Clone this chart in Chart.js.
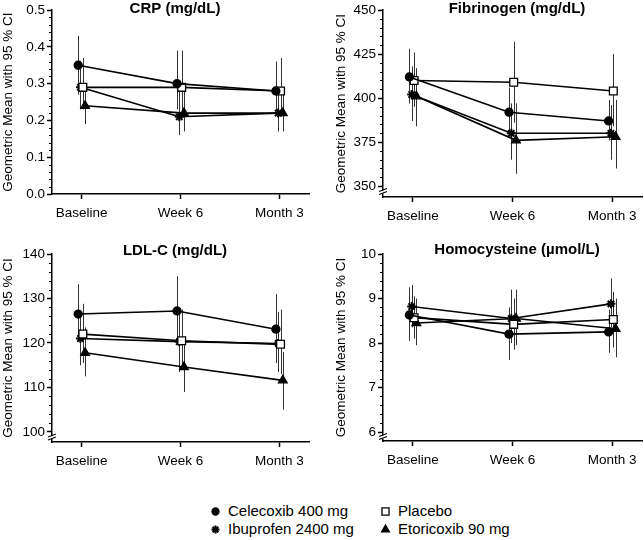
<!DOCTYPE html>
<html>
<head>
<meta charset="utf-8">
<title>Inflammatory markers</title>
<script src="https://cdn.jsdelivr.net/npm/chart.js@4.4.1/dist/chart.umd.min.js"></script>
<style>
    body { margin: 0; background: #fff; }
    #wrap { position: relative; width: 644px; height: 540px; font-family: 'Liberation Sans', Arial, sans-serif; }
    #wrap canvas.panel { position: absolute; }
    .item { position: absolute; font-size: 15px; line-height: 18px; color: #000; white-space: nowrap; }
    .item canvas { position: absolute; left: -19px; top: 3px; }
</style>
</head>
<body>
<div id="wrap">
    <canvas class="panel" id="crpChart" width="322" height="230" style="left:0;top:0"></canvas>
    <canvas class="panel" id="fibChart" width="322" height="230" style="left:322px;top:0"></canvas>
    <canvas class="panel" id="ldlChart" width="322" height="245" style="left:0;top:230px"></canvas>
    <canvas class="panel" id="hcyChart" width="322" height="245" style="left:322px;top:230px"></canvas>
    <div id="legend"></div>
</div>
<script>
const categories = ['Baseline', 'Week 6', 'Month 3'];
const seriesNames = ['Celecoxib 400 mg', 'Placebo', 'Ibuprofen 2400 mg', 'Etoricoxib 90 mg'];

// series order: Celecoxib, Placebo, Ibuprofen, Etoricoxib
const crpMean = [[0.35, 0.30, 0.28], [0.29, 0.29, 0.28], [0.29, 0.21, 0.22], [0.24, 0.22, 0.22]];
const crpLow  = [[0.27, 0.23, 0.22], [0.23, 0.22, 0.21], [0.23, 0.16, 0.17], [0.19, 0.17, 0.17]];
const crpHigh = [[0.43, 0.39, 0.36], [0.37, 0.39, 0.37], [0.36, 0.28, 0.29], [0.30, 0.29, 0.28]];
const crpTicks = [0, 0.1, 0.2, 0.3, 0.4, 0.5];

const fibMean = [[412, 392, 387], [410, 409, 404], [402, 380, 380], [401, 376, 378]];
const fibLow  = [[397, 378, 376], [395, 386, 384], [387, 365, 365], [384, 357, 360]];
const fibHigh = [[428, 406, 399], [426, 432, 425], [418, 397, 396], [417, 397, 399]];
const fibTicks = [350, 375, 400, 425, 450];

const ldlMean = [[126.5, 127.2, 123.1], [122.0, 120.5, 119.7], [121.0, 120.3, 119.9], [117.8, 114.6, 111.6]];
const ldlLow  = [[120.5, 120.0, 115.5], [115.5, 114.0, 113.0], [115.0, 113.5, 113.5], [112.5, 109.0, 105.0]];
const ldlHigh = [[133.2, 135.0, 131.0], [128.8, 127.5, 127.5], [127.0, 127.0, 127.0], [123.5, 120.5, 118.0]];
const ldlTicks = [100, 110, 120, 130, 140];

const hcyMean = [[8.63, 8.20, 8.25], [8.57, 8.42, 8.53], [8.82, 8.55, 8.88], [8.45, 8.55, 8.32]];
const hcyLow  = [[8.05, 7.62, 7.78], [8.10, 7.85, 7.90], [8.35, 8.00, 8.35], [7.95, 7.95, 7.68]];
const hcyHigh = [[9.25, 8.80, 8.75], [9.05, 9.00, 9.15], [9.30, 9.20, 9.45], [9.00, 9.20, 9.00]];
const hcyTicks = [6, 7, 8, 9, 10];

const FONT = "'Liberation Sans', Arial, sans-serif";
Chart.defaults.font.family = FONT;
Chart.defaults.color = '#000';

const markers = [
    { style: 'circle', radius: 4, fill: '#000', bw: 1.3 },
    { style: 'rect', radius: 5.5, fill: '#fff', bw: 1.3 },
    { style: 'star', radius: 4.5, fill: '#000', bw: 2 },
    { style: 'triangle', radius: 5, fill: '#000', bw: 1.3 }
];
// small horizontal dodge so the CI bars don't sit on top of each other
const dodge = [-0.035, 0.012, -0.012, 0.035];

// CI whiskers, drawn under the lines and markers
const errorBars = {
    id: 'errorBars',
    beforeDatasetsDraw(chart) {
        const { ctx, scales: { y } } = chart;
        ctx.save();
        ctx.strokeStyle = '#333';
        ctx.lineWidth = 1;
        chart.data.datasets.forEach((ds, i) => {
            chart.getDatasetMeta(i).data.forEach((pt, j) => {
                const x = Math.round(pt.x) + 0.5;
                ctx.beginPath();
                ctx.moveTo(x, y.getPixelForValue(ds.low[j]));
                ctx.lineTo(x, y.getPixelForValue(ds.high[j]));
                ctx.stroke();
            });
        });
        ctx.restore();
    }
};

// minor ticks, axis break and the panel title
const axisDeco = {
    id: 'axisDeco',
    afterDraw(chart, args, opts) {
        const { ctx, chartArea, scales: { y } } = chart;
        const left = chartArea.left;
        ctx.save();
        ctx.strokeStyle = '#000';
        ctx.lineWidth = 1;
        const n = Math.round((opts.last - opts.first) / opts.minor);
        for (let k = 0; k <= n; k++) {
            if (k % 5 === 0) continue;
            const py = Math.round(y.getPixelForValue(opts.first + k * opts.minor)) + 0.5;
            ctx.beginPath();
            ctx.moveTo(left, py);
            ctx.lineTo(left - 3, py);
            ctx.stroke();
        }
        if (opts.brk) {
            const yb = (y.getPixelForValue(opts.first) + chartArea.bottom) / 2 + 1;
            ctx.fillStyle = '#fff';
            ctx.fillRect(left - 3, yb - 2, 6, 3);
            ctx.lineWidth = 1.2;
            ctx.beginPath();
            ctx.moveTo(left - 4, yb - 1);
            ctx.lineTo(left + 4, yb - 4);
            ctx.moveTo(left - 4, yb + 2);
            ctx.lineTo(left + 4, yb - 1);
            ctx.stroke();
        }
        ctx.fillStyle = '#000';
        ctx.font = 'bold 15px ' + FONT;
        ctx.textAlign = 'center';
        ctx.textBaseline = 'middle';
        ctx.fillText(opts.title, opts.titleX, opts.titleY);
        ctx.restore();
    }
};

const makePanel = (id, p) => {
    const datasets = seriesNames.map((name, i) => ({
        label: name,
        data: p.mean[i].map((v, j) => ({ x: j + dodge[i], y: v })),
        low: p.low[i],
        high: p.high[i],
        borderColor: '#000',
        borderWidth: 1.6,
        pointStyle: markers[i].style,
        pointRadius: markers[i].radius,
        pointBackgroundColor: markers[i].fill,
        pointBorderColor: '#000',
        pointBorderWidth: markers[i].bw,
        fill: false,
        tension: 0
    }));

    return new Chart(document.getElementById(id), {
        type: 'line',
        data: { datasets },
        plugins: [errorBars, axisDeco],
        options: {
            responsive: false,
            animation: false,
            layout: { autoPadding: false, padding: p.pad },
            plugins: {
                legend: { display: false },
                tooltip: { enabled: false },
                axisDeco: {
                    first: p.ticks[0],
                    last: p.ticks[p.ticks.length - 1],
                    minor: p.minor,
                    brk: p.min < p.ticks[0],
                    title: p.title,
                    titleX: p.titleX,
                    titleY: p.titleY
                }
            },
            scales: {
                x: {
                    type: 'linear',
                    min: -0.3,
                    max: 2.3,
                    afterBuildTicks: s => { s.ticks = categories.map((c, i) => ({ value: i })); },
                    afterFit: s => { s.height = p.xh; },
                    ticks: {
                        callback: v => categories[v],
                        font: { size: 13.5 },
                        padding: 6,
                        maxRotation: 0
                    },
                    grid: { drawOnChartArea: false, tickLength: 5, tickColor: '#000', tickWidth: 1.5 },
                    border: { color: '#000', width: 1.5 }
                },
                y: {
                    type: 'linear',
                    min: p.min,
                    max: p.ticks[p.ticks.length - 1],
                    afterBuildTicks: s => { s.ticks = p.ticks.map(v => ({ value: v })); },
                    afterFit: s => { s.width = p.yw; },
                    ticks: {
                        callback: v => v.toFixed(p.dec),
                        font: { size: 13.5 },
                        padding: 2
                    },
                    title: {
                        display: true,
                        text: 'Geometric Mean with 95 % CI',
                        font: { size: 13.5 },
                        padding: 0
                    },
                    grid: { drawOnChartArea: false, tickLength: 5, tickColor: '#000', tickWidth: 1.5 },
                    border: { color: '#000', width: 1.5 }
                }
            }
        }
    });
};

makePanel('crpChart', {
    title: 'CRP (mg/dL)', titleX: 175, titleY: 9,
    mean: crpMean, low: crpLow, high: crpHigh, ticks: crpTicks,
    min: 0, minor: 0.02, dec: 1,
    pad: { left: 0, top: 10, right: 13, bottom: 0 }, yw: 52, xh: 36
});
makePanel('fibChart', {
    title: 'Fibrinogen (mg/dL)', titleX: 195, titleY: 9,
    mean: fibMean, low: fibLow, high: fibHigh, ticks: fibTicks,
    min: 343.8, minor: 5, dec: 0,
    pad: { left: 11, top: 8, right: 2, bottom: 0 }, yw: 50, xh: 33
});
makePanel('ldlChart', {
    title: 'LDL-C (mg/dL)', titleX: 175, titleY: 21,
    mean: ldlMean, low: ldlLow, high: ldlHigh, ticks: ldlTicks,
    min: 97.75, minor: 2, dec: 0,
    pad: { left: 0, top: 24, right: 13, bottom: 0 }, yw: 52, xh: 33
});
makePanel('hcyChart', {
    title: 'Homocysteine (\u00b5mol/L)', titleX: 195, titleY: 20,
    mean: hcyMean, low: hcyLow, high: hcyHigh, ticks: hcyTicks,
    min: 5.8, minor: 0.2, dec: 0,
    pad: { left: 11, top: 24, right: 2, bottom: 0 }, yw: 50, xh: 34
});

// legend: two columns, two rows
const legend = document.getElementById('legend');
const legendPos = [[228, 502], [398, 502], [228, 520], [398, 520]];
seriesNames.forEach((name, i) => {
    const item = document.createElement('div');
    item.className = 'item';
    item.style.left = legendPos[i][0] + 'px';
    item.style.top = legendPos[i][1] + 'px';
    const c = document.createElement('canvas');
    c.width = 13;
    c.height = 13;
    const ctx = c.getContext('2d');
    ctx.fillStyle = markers[i].fill;
    ctx.strokeStyle = '#000';
    ctx.lineWidth = markers[i].bw;
    Chart.helpers.drawPoint(ctx, {
        pointStyle: markers[i].style,
        radius: markers[i].radius - 0.5,
        rotation: 0,
        borderWidth: markers[i].bw
    }, 6.5, 6.5);
    item.appendChild(c);
    item.appendChild(document.createTextNode(name));
    legend.appendChild(item);
});
</script>
</body>
</html>
